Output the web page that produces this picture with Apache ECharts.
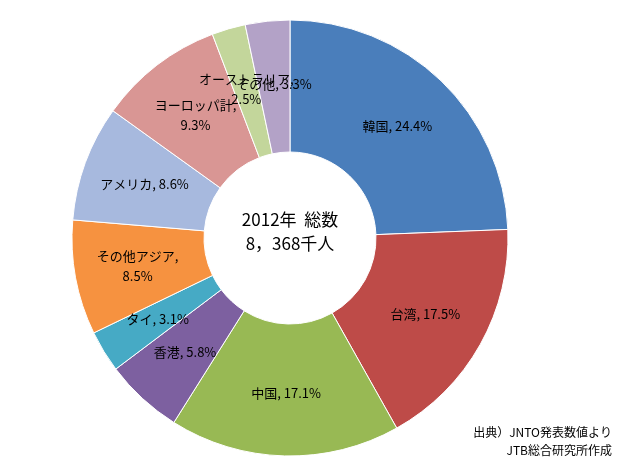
<!DOCTYPE html>
<html>
<head>
<meta charset="utf-8">
<script src="https://cdn.jsdelivr.net/npm/echarts@6/dist/echarts.min.js"></script>
<style>
  html, body { margin: 0; padding: 0; background: #fff; }
  #chart { width: 626px; height: 465px; }
</style>
</head>
<body>
<div id="chart"></div>
<script>
const names = ['韓国', '台湾', '中国', '香港', 'タイ', 'その他アジア', 'アメリカ', 'ヨーロッパ計', 'オーストラリア', 'その他'];
const shares = [24.4, 17.5, 17.1, 5.8, 3.1, 8.5, 8.6, 9.3, 2.5, 3.3];
const colors = ['#4a7ebb', '#be4b48', '#98b954', '#7d60a0', '#46aac5', '#f69240', '#a7b9de', '#d99694', '#c3d69b', '#b3a2c7'];
// labels that wrap onto two lines in the original
const wrapped = ['その他アジア', 'ヨーロッパ計', 'オーストラリア'];

const font = '"Noto Sans CJK JP", "Noto Sans", sans-serif';

const chart = echarts.init(document.getElementById('chart'));
chart.setOption({
  animation: false,
  color: colors,
  series: [{
    type: 'pie',
    center: [290, 238],
    radius: [86, 218],
    startAngle: 90,
    clockwise: true,
    avoidLabelOverlap: false,
    labelLayout: { hideOverlap: false },
    itemStyle: { borderColor: '#fff', borderWidth: 1 },
    label: {
      position: 'inside',
      color: '#000',
      fontSize: 13,
      fontFamily: font,
      lineHeight: 20,
      formatter: (p) => wrapped.includes(p.name) ? p.name + ',\n' + p.value + '%' : p.name + ', ' + p.value + '%'
    },
    data: names.map((n, i) => ({ name: n, value: shares[i] }))
  }],
  graphic: [
    {
      type: 'text', x: 290, y: 208,
      style: { text: '2012年  総数\n8，368千人', fill: '#000', font: '17px ' + font, textAlign: 'center', lineHeight: 24 }
    },
    {
      type: 'text', x: 612, y: 423,
      style: { text: '出典）JNTO発表数値より\nJTB総合研究所作成', fill: '#000', font: '12px ' + font, textAlign: 'right', lineHeight: 18 }
    }
  ]
});
</script>
</body>
</html>
